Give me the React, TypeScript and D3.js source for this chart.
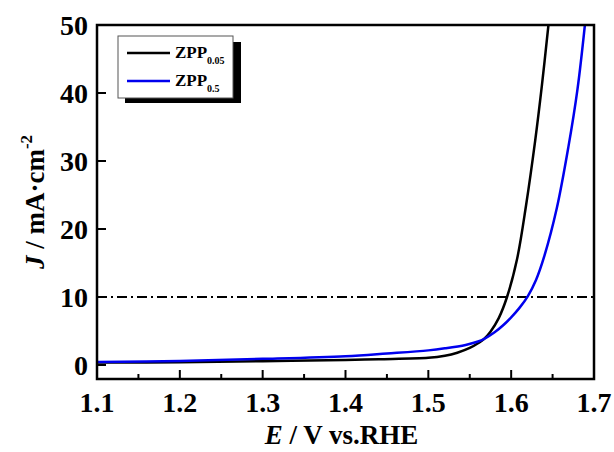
import React, { useEffect, useRef } from "react";
import * as d3 from "d3";

// potential (V vs. RHE) and current density (mA cm^-2)
const potentialA = [1.1, 1.2, 1.3, 1.4, 1.44, 1.5, 1.52, 1.535, 1.55, 1.56, 1.567, 1.575, 1.585, 1.595, 1.607, 1.618, 1.629, 1.637, 1.645];
const currentA = [0.35, 0.4, 0.55, 0.75, 0.85, 1.05, 1.35, 1.8, 2.5, 3.2, 3.8, 4.9, 6.9, 10, 15.5, 23.5, 33, 41, 50];

const potentialB = [1.1, 1.2, 1.3, 1.4, 1.45, 1.5, 1.52, 1.545, 1.56, 1.567, 1.58, 1.59, 1.6, 1.61, 1.62, 1.63, 1.64, 1.655, 1.669, 1.68, 1.689];
const currentB = [0.45, 0.6, 0.9, 1.3, 1.7, 2.15, 2.45, 2.95, 3.45, 3.8, 4.8, 5.8, 7.0, 8.4, 10.1, 12.5, 16, 23, 32, 40.5, 50];

const seriesNames = ["0.05", "0.5"];
const seriesColors = ["#000000", "#0000ee"];
const xTicks = [1.1, 1.2, 1.3, 1.4, 1.5, 1.6, 1.7];
const xMinor = [1.15, 1.25, 1.35, 1.45, 1.55, 1.65];
const yTicks = [0, 10, 20, 30, 40, 50];
const refLine = 10;

const Chart = () => {
  const ref = useRef<SVGSVGElement>(null);

  useEffect(() => {
    const width = 614;
    const height = 452;
    const left = 97;
    const right = 594;
    const top = 25;
    const bottom = 379;
    const font = "'Liberation Serif', 'Times New Roman', serif";

    const x = d3.scaleLinear([1.1, 1.7], [left, right]);
    const y = d3.scaleLinear([-2.06, 50], [bottom, top]);

    const svg = d3.select(ref.current);
    svg.selectAll("*").remove();
    svg.attr("width", width).attr("height", height).attr("viewBox", [0, 0, width, height]);

    svg.append("rect").attr("width", width).attr("height", height).attr("fill", "#fff");

    svg.append("defs").append("clipPath").attr("id", "plot-clip")
      .append("rect").attr("x", left).attr("y", top).attr("width", right - left).attr("height", bottom - top);

    // reference line at 10 mA cm^-2
    svg.append("line")
      .attr("x1", left).attr("x2", right)
      .attr("y1", y(refLine)).attr("y2", y(refLine))
      .attr("stroke", "#000").attr("stroke-width", 2)
      .attr("stroke-dasharray", "10,4,2,4");

    const data = [
      potentialA.map((e, i) => [e, currentA[i]]),
      potentialB.map((e, i) => [e, currentB[i]]),
    ];
    const line = d3.line<number[]>().x((d) => x(d[0])).y((d) => y(d[1])).curve(d3.curveCatmullRom.alpha(0.5));

    svg.append("g").attr("clip-path", "url(#plot-clip)")
      .selectAll("path")
      .data(data)
      .join("path")
      .attr("d", (d) => line(d))
      .attr("fill", "none")
      .attr("stroke", (d, i) => seriesColors[i])
      .attr("stroke-width", 2.5);

    // frame
    svg.append("rect")
      .attr("x", left).attr("y", top).attr("width", right - left).attr("height", bottom - top)
      .attr("fill", "none").attr("stroke", "#000").attr("stroke-width", 2.5);

    // x ticks (inward)
    const xAxis = svg.append("g");
    xAxis.selectAll("line.major").data(xTicks).join("line").attr("class", "major")
      .attr("x1", (d) => x(d)).attr("x2", (d) => x(d))
      .attr("y1", bottom).attr("y2", bottom - 9)
      .attr("stroke", "#000").attr("stroke-width", 2);
    xAxis.selectAll("line.minor").data(xMinor).join("line").attr("class", "minor")
      .attr("x1", (d) => x(d)).attr("x2", (d) => x(d))
      .attr("y1", bottom).attr("y2", bottom - 5)
      .attr("stroke", "#000").attr("stroke-width", 2);
    xAxis.selectAll("text").data(xTicks).join("text")
      .attr("x", (d) => x(d)).attr("y", 412)
      .attr("text-anchor", "middle")
      .attr("font-family", font).attr("font-weight", "bold").attr("font-size", 28)
      .text((d) => d.toFixed(1));

    // y ticks (inward)
    const yAxis = svg.append("g");
    yAxis.selectAll("line").data(yTicks).join("line")
      .attr("x1", left).attr("x2", left + 9)
      .attr("y1", (d) => y(d)).attr("y2", (d) => y(d))
      .attr("stroke", "#000").attr("stroke-width", 2);
    yAxis.selectAll("text").data(yTicks).join("text")
      .attr("x", 88).attr("y", (d) => y(d)).attr("dy", "0.35em")
      .attr("text-anchor", "end")
      .attr("font-family", font).attr("font-weight", "bold").attr("font-size", 28)
      .text((d) => d);

    // axis titles
    const xt = svg.append("text")
      .attr("x", (left + right) / 2 - 4).attr("y", 444)
      .attr("text-anchor", "middle")
      .attr("font-family", font).attr("font-weight", "bold").attr("font-size", 27);
    xt.append("tspan").attr("font-style", "italic").text("E");
    xt.append("tspan").text(" / V vs.RHE");

    const yt = svg.append("text")
      .attr("transform", `translate(44,${(top + bottom) / 2}) rotate(-90)`)
      .attr("text-anchor", "middle")
      .attr("font-family", font).attr("font-weight", "bold").attr("font-size", 27);
    yt.append("tspan").attr("font-style", "italic").text("J");
    yt.append("tspan").text(" / mA·cm");
    yt.append("tspan").attr("font-size", 17).attr("dy", -12).text("-2");

    // legend
    const lg = svg.append("g");
    lg.append("rect").attr("x", 125).attr("y", 42).attr("width", 116).attr("height", 61).attr("fill", "#000");
    lg.append("rect").attr("x", 118).attr("y", 36).attr("width", 115).attr("height", 62)
      .attr("fill", "#fff").attr("stroke", "#555").attr("stroke-width", 1);
    seriesNames.forEach((name, i) => {
      const ly = 53 + i * 28;
      lg.append("line").attr("x1", 127).attr("x2", 170).attr("y1", ly).attr("y2", ly)
        .attr("stroke", seriesColors[i]).attr("stroke-width", 2.5);
      const t = lg.append("text").attr("x", 175).attr("y", ly + 5)
        .attr("font-family", font).attr("font-weight", "bold").attr("font-size", 17);
      t.append("tspan").text("ZPP");
      t.append("tspan").attr("font-size", 10).attr("dy", 6).text(name);
    });
  }, []);

  return <svg ref={ref} style={{ position: "absolute", left: 0, top: 0, display: "block" }}></svg>;
};

export default function App() {
  return <Chart />;
}
